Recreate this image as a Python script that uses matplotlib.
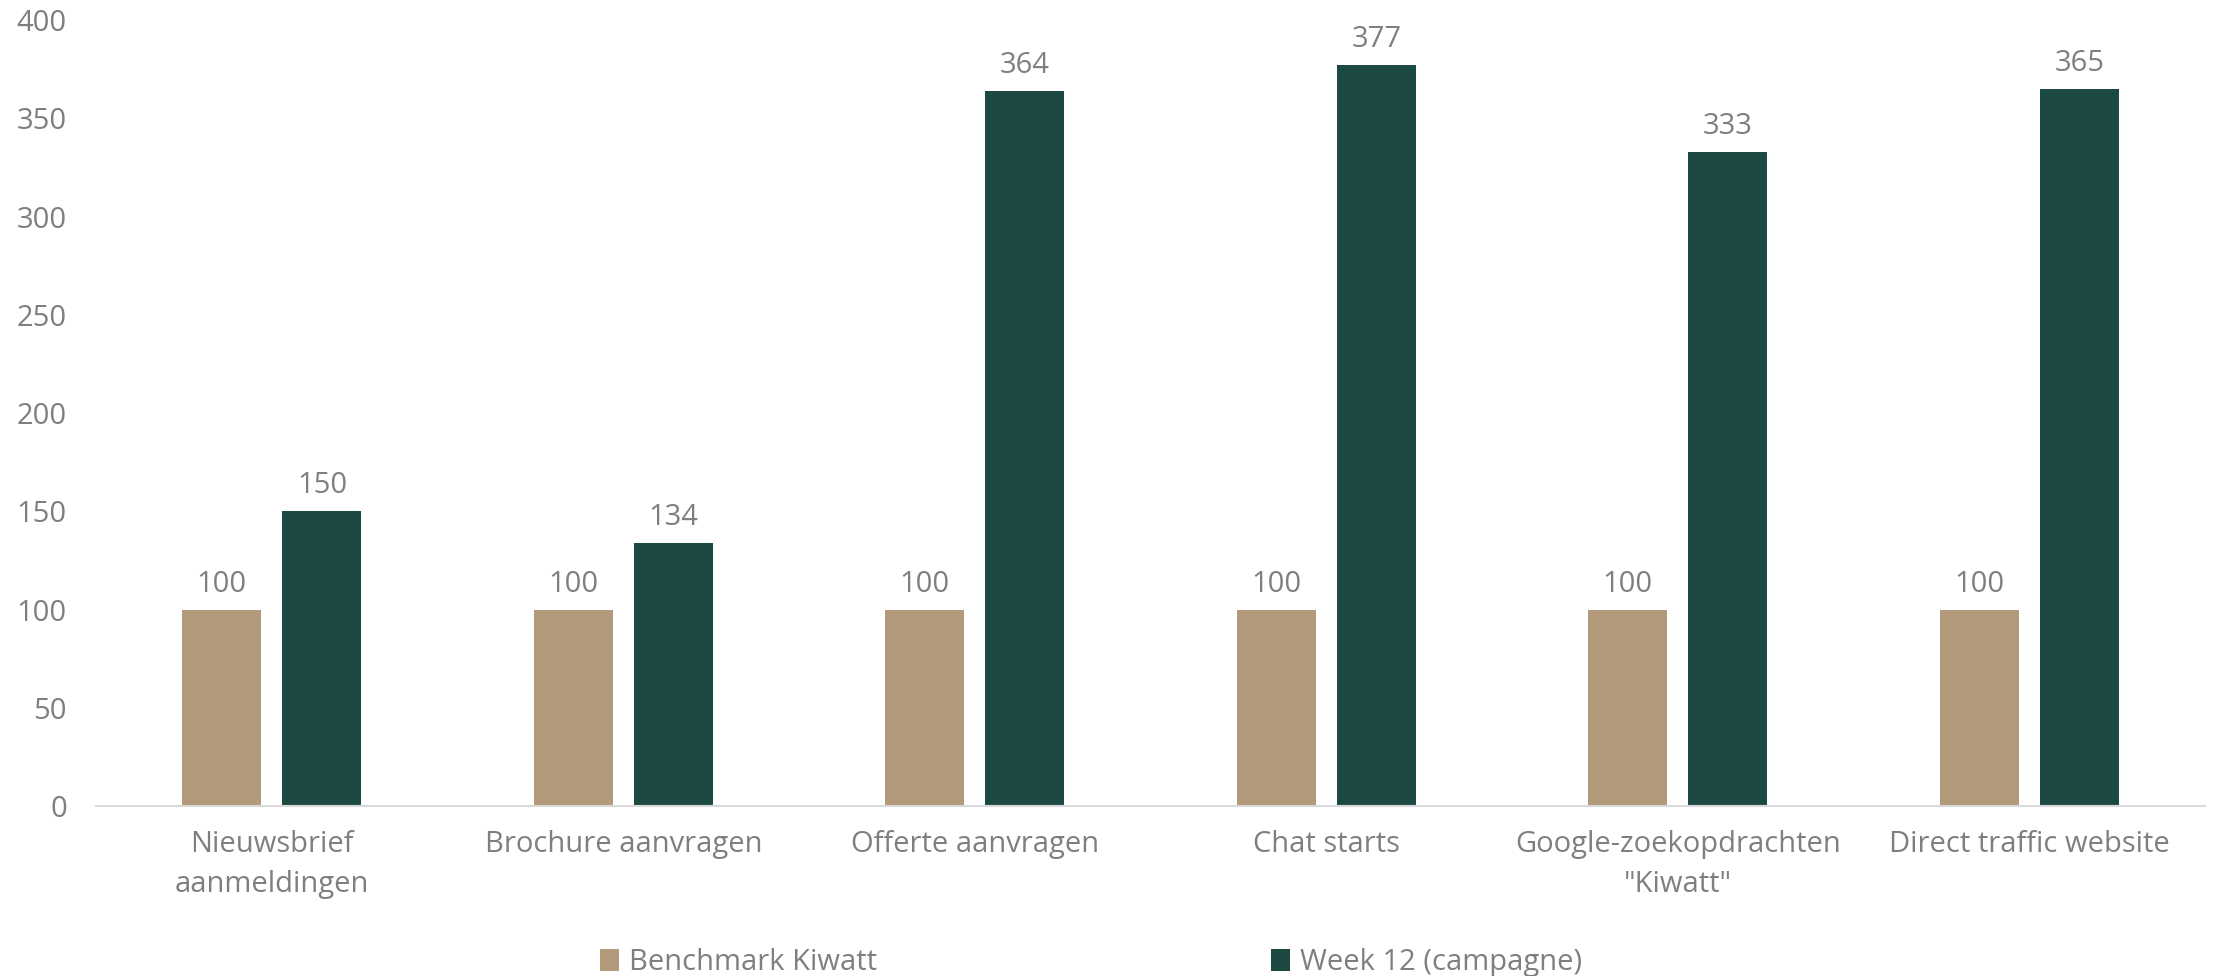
import matplotlib
matplotlib.use("Agg")
import matplotlib.pyplot as plt
import numpy as np

categories = ["Nieuwsbrief\naanmeldingen", "Brochure aanvragen", "Offerte aanvragen",
              "Chat starts", "Google-zoekopdrachten\n\"Kiwatt\"", "Direct traffic website"]
benchmark = [100, 100, 100, 100, 100, 100]
week12 = [150, 134, 364, 377, 333, 365]
series_names = ["Benchmark Kiwatt", "Week 12 (campagne)"]
y_ticks = [0, 50, 100, 150, 200, 250, 300, 350, 400]

TAN = "#B39A7B"
GREEN = "#1C4A43"
GREY = "#7F7F7F"
FS = 21

plt.rcParams["font.family"] = ["Open Sans", "DejaVu Sans"]
plt.rcParams["font.size"] = FS

fig = plt.figure(figsize=(22.13, 9.76), dpi=100)
ax = fig.add_axes([0.0434, 0.174, 0.953, 0.8055])

x = np.arange(len(categories))
w = 0.225
off = 0.1425
b1 = ax.bar(x - off, benchmark, w, color=TAN, label=series_names[0])
b2 = ax.bar(x + off, week12, w, color=GREEN, label=series_names[1])
ax.bar_label(b1, padding=8, color=GREY, fontsize=FS)
ax.bar_label(b2, padding=8, color=GREY, fontsize=FS)

ax.set_xlim(-0.5, len(categories) - 0.5)
ax.set_ylim(0, 400)
ax.set_yticks(y_ticks)
ax.set_xticks(x)
ax.set_xticklabels(categories, linespacing=1.5)
ax.tick_params(axis="both", length=0, colors=GREY, labelsize=FS)
ax.tick_params(axis="x", pad=17)
ax.tick_params(axis="y", pad=21)

for s in ["top", "right", "left"]:
    ax.spines[s].set_visible(False)
ax.spines["bottom"].set_color("#D9D9D9")
ax.spines["bottom"].set_linewidth(1.5)

leg = fig.legend(loc="lower center", bbox_to_anchor=(0.493, -0.028), ncol=2, frameon=False,
                 handlelength=0.65, handleheight=0.75, handletextpad=0.35, columnspacing=13.5,
                 fontsize=FS)
for t in leg.get_texts():
    t.set_color(GREY)

fig.savefig("out.png", dpi=100)
